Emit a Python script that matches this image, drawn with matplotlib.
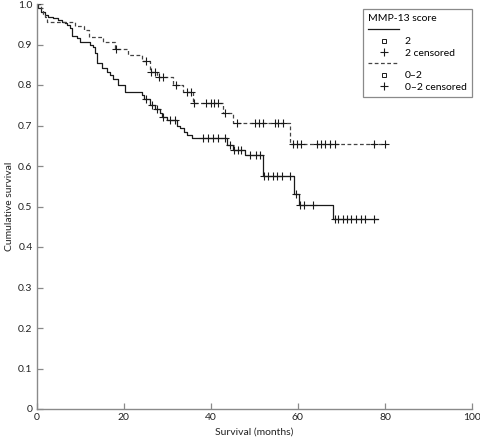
import matplotlib
matplotlib.use('Agg')
import matplotlib.pyplot as plt
import numpy as np
from matplotlib.lines import Line2D

plt.rcParams['font.family'] = ['Lato', 'DejaVu Sans']

# MMP-13 score 2 (solid)
s2_times = [0, 0.4, 1.1, 1.9, 2.7, 3.8, 5.0, 5.7, 6.5, 6.9, 7.6, 8.0, 9.2, 9.9,
            12.2, 13.0, 13.4, 13.8, 14.9, 16.1, 16.8, 17.6, 18.7, 20.3, 24.1,
            24.6, 26.0, 27.2, 28.3, 28.8, 30.0, 32.3, 32.9, 33.8, 34.6, 35.6,
            43.8, 45.0, 47.8, 52.0, 59.2, 60.2, 68.1]
s2_surv = [1.0, .989, .981, .973, .969, .965, .96, .956, .952, .948, .94, .92,
           .915, .907, .899, .893, .879, .855, .841, .833, .825, .816, .80,
           .783, .775, .765, .751, .74, .73, .722, .714, .70, .693, .685, .677,
           .668, .652, .64, .628, .575, .53, .504, .468]
s2_end = 78.4
s2_censor = [25.0, 26.4, 27.6, 29.1, 30.6, 31.8, 38.3, 39.4, 40.6, 41.7, 43.2,
             44.5, 45.4, 46.3, 47.0, 49.0, 50.3, 51.3, 52.2, 53.2, 54.2, 55.1,
             56.3, 58.3, 59.5, 60.5, 61.4, 63.4, 68.5, 69.3, 70.3, 71.3, 72.3,
             73.3, 74.4, 75.4, 77.5]

# MMP-13 score 0-2 (dashed)
s0_times = [0, 1.0, 1.5, 2.0, 2.3, 8.8, 10.9, 12.1, 15.2, 18.0, 21.0, 24.1,
            26.0, 27.7, 31.4, 33.6, 36.0, 42.8, 45.1, 58.2]
s0_surv = [1.0, .99, .975, .967, .956, .946, .935, .918, .905, .888, .874, .86,
           .833, .819, .80, .783, .756, .732, .705, .654]
s0_end = 80.3
s0_censor = [18.2, 25.1, 26.3, 27.2, 28.1, 29.1, 32.1, 34.6, 35.4, 36.2, 39.0,
             40.0, 40.8, 41.7, 43.2, 45.9, 50.1, 51.1, 52.0, 54.7, 55.5, 56.5,
             58.9, 59.9, 60.8, 64.3, 65.3, 66.2, 67.3, 68.5, 77.5, 80.0]

xticks = [0, 20, 40, 60, 80, 100]
yticks = [0, 0.1, 0.2, 0.3, 0.4, 0.5, 0.6, 0.7, 0.8, 0.9, 1.0]
ytick_labels = ['0', '0.1', '0.2', '0.3', '0.4', '0.5', '0.6', '0.7', '0.8', '0.9', '1.0']

axis_col = '#8a8a8a'


def surv_at(times, surv, t):
    i = np.searchsorted(times, t, side='right') - 1
    return np.array(surv)[i]


fig = plt.figure(figsize=(4.81, 4.41), dpi=100)
ax = fig.add_axes([36.7 / 481, 1 - 409 / 441, (472 - 36.7) / 481, (409 - 4) / 441])

# step curves + censor marks
for times, surv, end, cens, ls, col in [
        (s2_times, s2_surv, s2_end, s2_censor, '-', '#1a1a1a'),
        (s0_times, s0_surv, s0_end, s0_censor, (0, (3, 2)), '#444444')]:
    tx = list(times) + [end]
    sy = list(surv) + [surv[-1]]
    ax.step(tx, sy, where='post', color=col, lw=0.9, ls=ls)
    ax.plot(cens, surv_at(times, surv, cens), ls='none', marker='+',
            ms=5.5, mew=0.8, color='#1a1a1a')

ax.set_xlim(0, 100)
ax.set_ylim(0, 1.0)
ax.set_xticks(xticks)
ax.set_yticks(yticks)
ax.set_yticklabels(ytick_labels)
ax.tick_params(direction='in', length=4, width=0.9, color=axis_col,
               labelsize=7.5, labelcolor='#222222', pad=3)
for side in ['top', 'right']:
    ax.spines[side].set_visible(False)
for side in ['left', 'bottom']:
    ax.spines[side].set_color(axis_col)
    ax.spines[side].set_linewidth(1.0)

ax.set_xlabel('Survival (months)', fontsize=7.5, color='#222222', labelpad=4)
ax.set_ylabel('Cumulative survival', fontsize=7.5, color='#222222', labelpad=3)

# legend
handles = [
    Line2D([], [], color='#1a1a1a', lw=0.9),
    Line2D([], [], ls='none', marker='s', ms=3.2, mfc='none', mec='#1a1a1a', mew=0.7),
    Line2D([], [], ls='none', marker='+', ms=5.5, mew=0.8, color='#1a1a1a'),
    Line2D([], [], color='#444444', lw=0.9, ls=(0, (3, 2))),
    Line2D([], [], ls='none', marker='s', ms=3.2, mfc='none', mec='#1a1a1a', mew=0.7),
    Line2D([], [], ls='none', marker='+', ms=5.5, mew=0.8, color='#1a1a1a'),
]
labels = ['', '2', '2 censored', '', '0\u20132', '0\u20132 censored']
leg = ax.legend(handles, labels, title='MMP-13 score', alignment='left',
                loc='upper right', bbox_to_anchor=(477 / 481, 1 - 4 / 441),
                bbox_transform=fig.transFigure, fontsize=7.5, title_fontsize=7.5,
                fancybox=False, framealpha=1, edgecolor=axis_col,
                handlelength=3.0, handletextpad=0.5, labelspacing=0.2,
                borderpad=0.5, numpoints=1)
leg.get_frame().set_linewidth(0.9)

fig.savefig('out.png', dpi=100)
